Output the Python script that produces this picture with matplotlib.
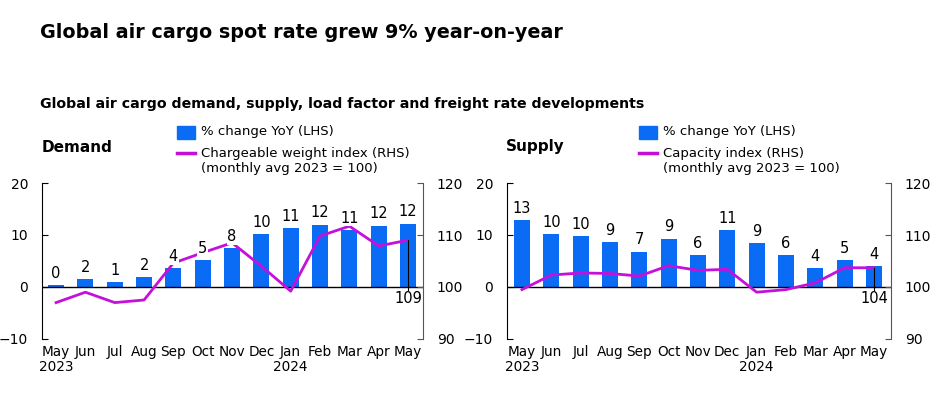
import numpy as np
import matplotlib.pyplot as plt
from matplotlib.patches import Rectangle
from matplotlib.lines import Line2D

plt.rcParams["font.family"] = ["DejaVu Sans"]

months = ["May\n2023", "Jun", "Jul", "Aug", "Sep", "Oct", "Nov", "Dec", "Jan\n2024", "Feb", "Mar", "Apr", "May"]

# Demand: % change YoY (LHS) and chargeable weight index (RHS)
demand_yoy = [0.4, 1.6, 0.9, 1.9, 3.6, 5.2, 7.5, 10.2, 11.4, 12.0, 11.0, 11.8, 12.2]
demand_labels = ["0", "2", "1", "2", "4", "5", "8", "10", "11", "12", "11", "12", "12"]
demand_index = [97.0, 99.0, 97.0, 97.5, 104.6, 106.6, 108.5, 104.0, 99.2, 109.8, 111.7, 107.9, 109.0]

# Supply: % change YoY (LHS) and capacity index (RHS)
supply_yoy = [12.8, 10.1, 9.8, 8.6, 6.8, 9.3, 6.2, 10.9, 8.5, 6.1, 3.7, 5.2, 4.1]
supply_labels = ["13", "10", "10", "9", "7", "9", "6", "11", "9", "6", "4", "5", "4"]
supply_index = [99.5, 102.3, 102.7, 102.6, 102.1, 104.1, 103.2, 103.4, 99.0, 99.5, 100.8, 103.7, 103.7]

BLUE = "#0A6CF5"
MAGENTA = "#C410DA"
W, H = 937, 398

fig = plt.figure(figsize=(W / 100, H / 100), dpi=100)
fig.text(40 / W, 1 - 32 / H, "Global air cargo spot rate grew 9% year-on-year",
         fontsize=13.8, fontweight="bold", va="center")
fig.text(40 / W, 1 - 104 / H, "Global air cargo demand, supply, load factor and freight rate developments",
         fontsize=10.2, fontweight="bold", va="center")


def fx(px):
    return px / W


def fy(py):
    return 1 - py / H


def panel(left, right, name, name_x, yoy, labels, index, line_label, legend_x, xlim):
    ax = fig.add_axes([left / W, 1 - 339 / H, (right - left) / W, (339 - 183) / H])
    ax2 = ax.twinx()
    x = np.arange(len(months))
    ax.bar(x, yoy, width=0.55, color=BLUE, zorder=2)
    ax.axhline(0, color="black", lw=1, zorder=3)
    ax.set_ylim(-10, 20)
    ax.set_yticks([-10, 0, 10, 20])
    ax.set_xlim(*xlim)
    ax.set_xticks(x)
    ax.set_xticklabels(months, fontsize=9.8, linespacing=1.15)
    ax.tick_params(axis="x", length=0, pad=4)
    ax.tick_params(axis="y", direction="in", length=4, labelsize=10, pad=10)
    for s in ["top", "bottom", "right"]:
        ax.spines[s].set_visible(False)
    ax.spines["left"].set_color("black")

    ax2.plot(x, index, color=MAGENTA, lw=2, zorder=3)
    ax2.set_ylim(90, 120)
    ax2.set_yticks([90, 100, 110, 120])
    ax2.tick_params(axis="y", direction="in", length=4, labelsize=10, pad=10, color="#555555")
    for s in ["top", "bottom", "left"]:
        ax2.spines[s].set_visible(False)
    ax2.spines["right"].set_color("#555555")

    # value labels above bars, white box hides the line behind them
    for xi, v, lab in zip(x, yoy, labels):
        t = ax2.annotate(lab, (xi, v), xycoords=ax.transData, xytext=(0, 3),
                         textcoords="offset points", ha="center", va="bottom", fontsize=10.5,
                         zorder=5)
        t.set_bbox(dict(facecolor="white", edgecolor="none", pad=0.5))

    # last index value marker
    ax2.plot([x[-1], x[-1]], [index[-1], 99.5], color="black", lw=0.8, zorder=4)
    ax2.text(x[-1], 99.3, f"{index[-1]:.0f}", ha="center", va="top", fontsize=10.5, zorder=5)

    fig.text(fx(name_x), fy(147), name, fontsize=11, fontweight="bold", va="center")

    # legend drawn by hand so the line sits on the first text row
    fig.add_artist(Rectangle((fx(legend_x), fy(139)), fx(18), 13 / H, color=BLUE,
                             transform=fig.transFigure))
    fig.add_artist(Line2D([fx(legend_x), fx(legend_x + 18)], [fy(153), fy(153)], color=MAGENTA,
                          lw=2.5, transform=fig.transFigure))
    fig.text(fx(legend_x + 24), fy(132), "% change YoY (LHS)", fontsize=9.5, va="center")
    fig.text(fx(legend_x + 24), fy(153), line_label, fontsize=9.5, va="center")
    fig.text(fx(legend_x + 24), fy(168), "(monthly avg 2023 = 100)", fontsize=9.5, va="center")
    return ax, ax2


panel(42, 423, "Demand", 42, demand_yoy, demand_labels, demand_index,
      "Chargeable weight index (RHS)", 177, (-0.48, 12.51))
panel(507, 891, "Supply", 506, supply_yoy, supply_labels, supply_index,
      "Capacity index (RHS)", 639, (-0.51, 12.58))

fig.savefig("out.png", dpi=100)
